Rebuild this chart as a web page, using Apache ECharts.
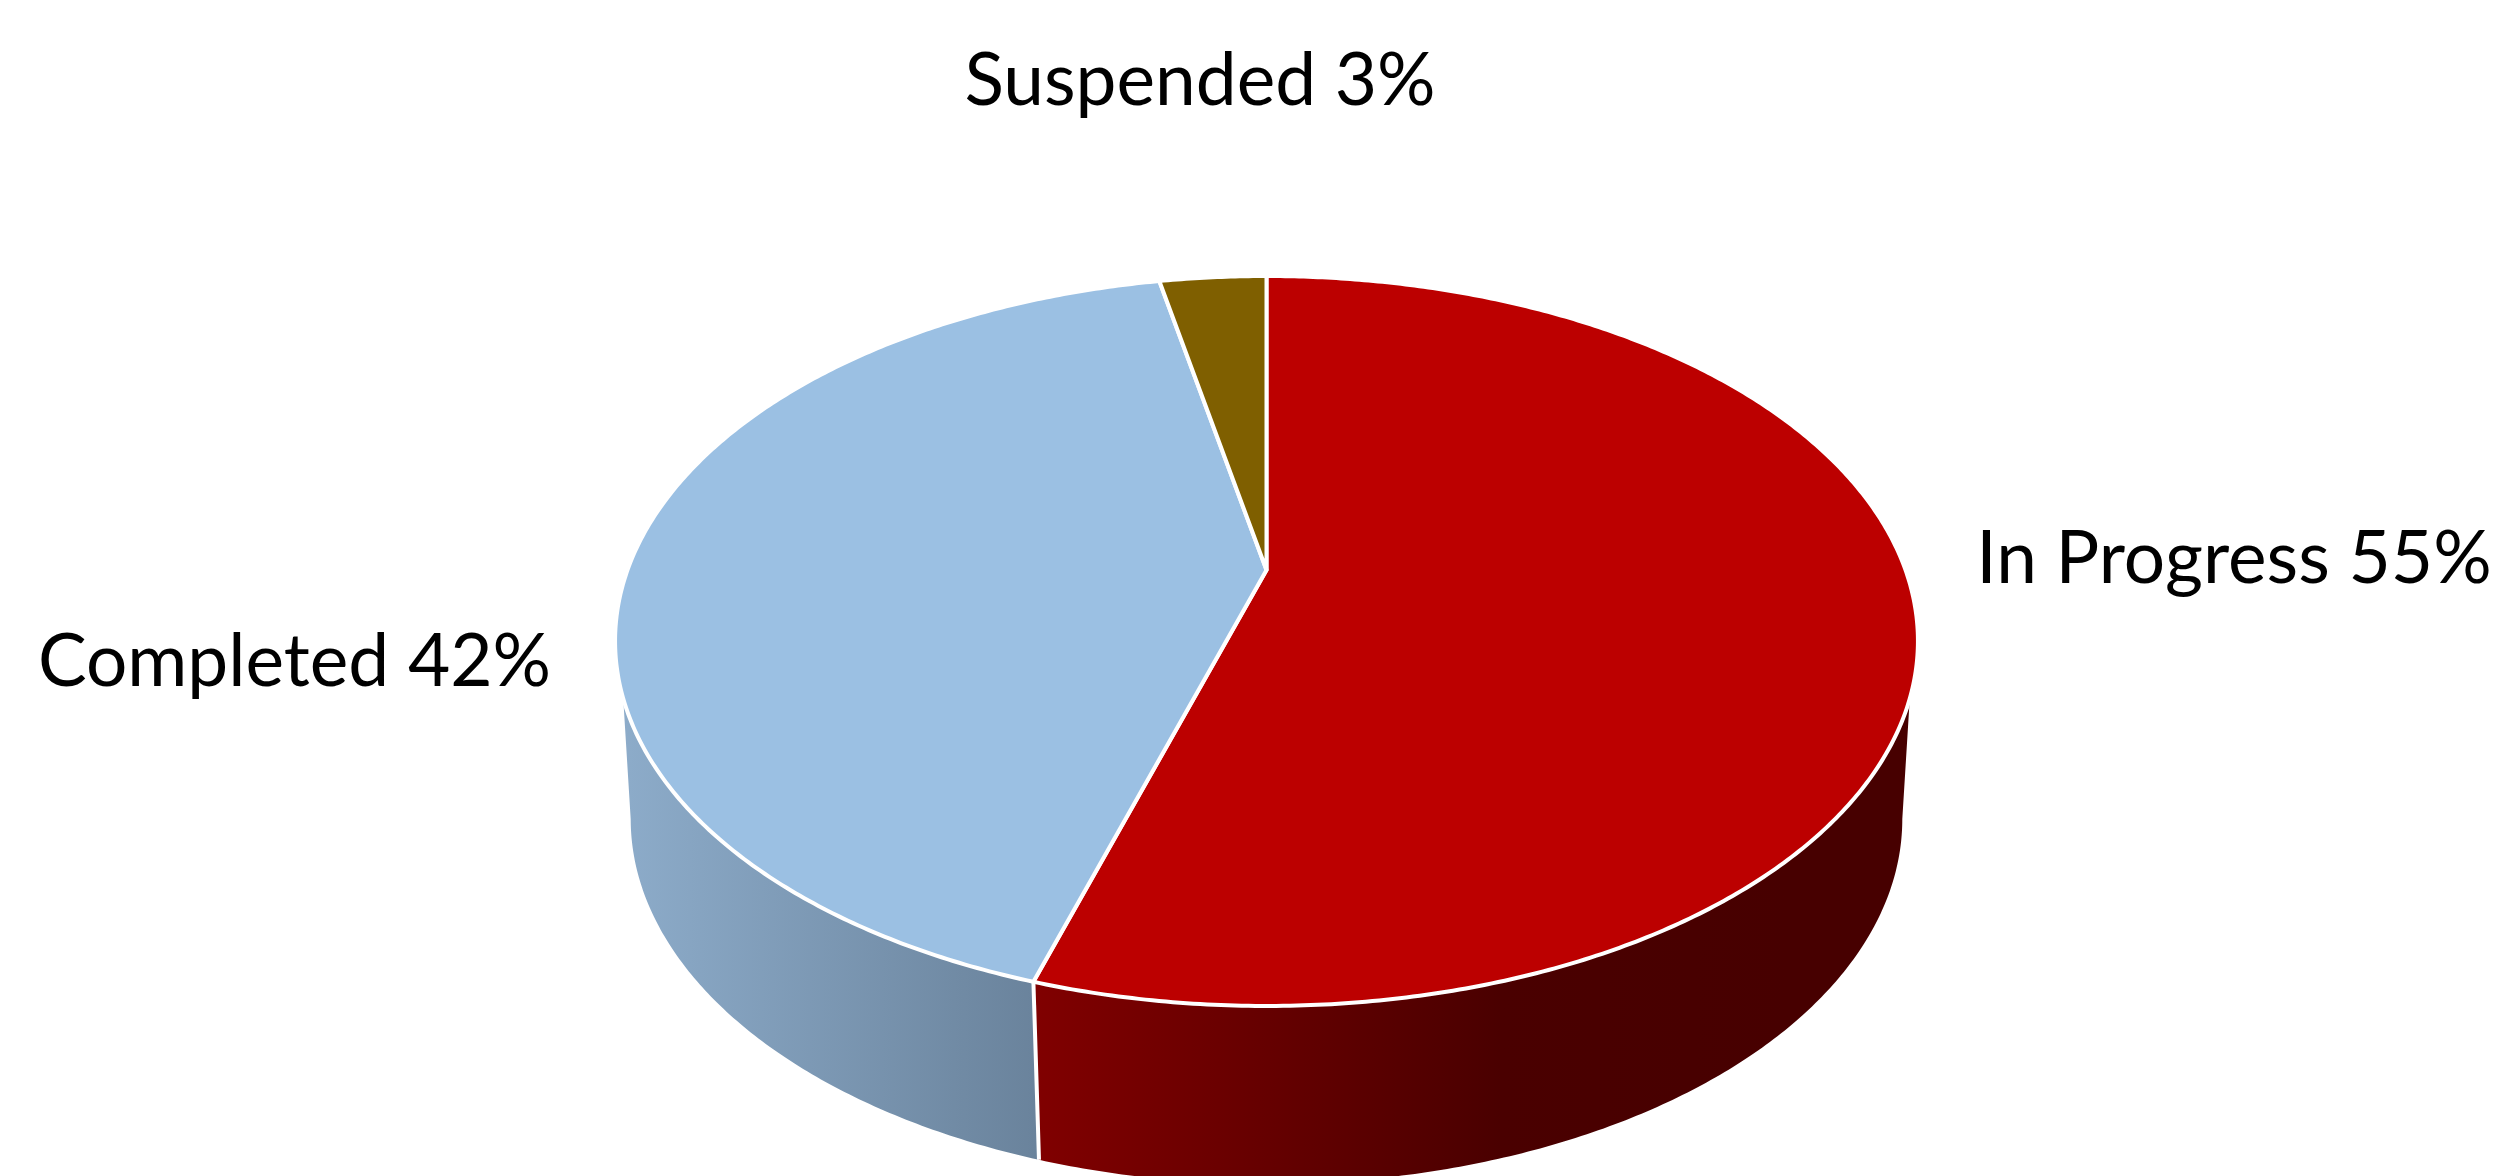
<!DOCTYPE html>
<html>
<head>
<meta charset="utf-8">
<style>html,body{margin:0;padding:0;background:#fff}#chart{width:2497px;height:1176px}</style>
<script src="https://cdn.jsdelivr.net/npm/echarts@6/dist/echarts.min.js"></script>
</head>
<body>
<div id="chart"></div>
<script>
const categories = ['In Progress', 'Completed', 'Suspended'];
const values = [54.8, 42, 3.2];

// Styles and layout
const topColors = ['#BC0000', '#9BC0E3', '#7F5F00'];
const wallStops = [
  [{ offset: 0, color: '#800000' }, { offset: 0.62, color: '#4A0000' }, { offset: 1, color: '#470000' }],
  [{ offset: 0, color: '#8DACCA' }, { offset: 1, color: '#6A839C' }],
  [{ offset: 0, color: '#7F5F00' }, { offset: 1, color: '#7F5F00' }]
];
const wallRange = [[1036, 1786], [618, 1036], [618, 1036]];
const labelPos = [[2234, 559], [294.5, 662], [1200, 81]];
const labelFont = '400 73px Lato, Carlito, Calibri, sans-serif';
const pie = { cx: 1266.5, q: 639, apexY: 570, p: 240.3, c: -0.1945, depth: 178, wallScale: 0.976 };
const TOP_VIS = [110, 250];   // degrees where the upper rim bounds the wall
const BOT_VIS = [101.2, 258.8]; // degrees where the lower rim bounds the wall

function rim(deg) {
  const t = deg * Math.PI / 180, u = Math.sin(t), v = -Math.cos(t), d = 1 + pie.c * v;
  return [pie.cx + pie.q * u / d, (pie.apexY + pie.p * v) / d];
}
function lowerRim(deg) {
  const a = rim(deg);
  return [pie.cx + (a[0] - pie.cx) * pie.wallScale, a[1] + pie.depth];
}
function arc(fn, a, b) {
  const pts = [], n = Math.max(2, Math.ceil(Math.abs(b - a) * 2));
  for (let i = 0; i <= n; i++) pts.push(fn(a + (b - a) * i / n));
  return pts;
}

const total = values.reduce((s, x) => s + x, 0);

function renderItem(params, api) {
  const i = params.dataIndex;
  const val = api.value(0);
  let before = 0;
  for (let k = 0; k < i; k++) before += values[k];
  const a0 = before / total * 360, a1 = (before + val) / total * 360;
  const children = [];

  // side wall
  const tA = Math.max(a0, TOP_VIS[0]), tB = Math.min(a1, TOP_VIS[1]);
  const bA = Math.max(a0, BOT_VIS[0]), bB = Math.min(a1, BOT_VIS[1]);
  if (tB > tA) {
    const pts = arc(rim, tA, tB).concat(arc(lowerRim, bB, bA));
    children.push({
      type: 'polygon', z2: 1, shape: { points: pts },
      style: { fill: new echarts.graphic.LinearGradient(wallRange[i][0], 0, wallRange[i][1], 0, wallStops[i], true) }
    });
  }
  // separator on the wall at the slice's end
  if (a1 > TOP_VIS[0] && a1 < TOP_VIS[1]) {
    children.push({
      type: 'polyline', z2: 2, shape: { points: [rim(a1), lowerRim(a1)] },
      style: { stroke: '#fff', lineWidth: 4, fill: null }
    });
  }
  // top face
  const face = [[pie.cx, pie.apexY]].concat(arc(rim, a0, a1));
  children.push({
    type: 'polygon', z2: 5, shape: { points: face },
    style: { fill: topColors[i], stroke: '#fff', lineWidth: 4, lineJoin: 'round' }
  });
  // label
  children.push({
    type: 'text', z2: 9,
    style: {
      text: categories[i] + ' ' + Math.round(val) + '%',
      x: labelPos[i][0], y: labelPos[i][1],
      align: 'center', verticalAlign: 'middle',
      font: labelFont, fill: '#000'
    }
  });
  return { type: 'group', children };
}

const chart = echarts.init(document.getElementById('chart'), null, { renderer: 'canvas' });
chart.setOption({
  animation: false,
  backgroundColor: '#fff',
  series: [{
    type: 'custom',
    coordinateSystem: 'none',
    renderItem,
    clip: false,
    data: values.map((v, i) => ({ name: categories[i], value: [v] }))
  }]
});
</script>
</body>
</html>
